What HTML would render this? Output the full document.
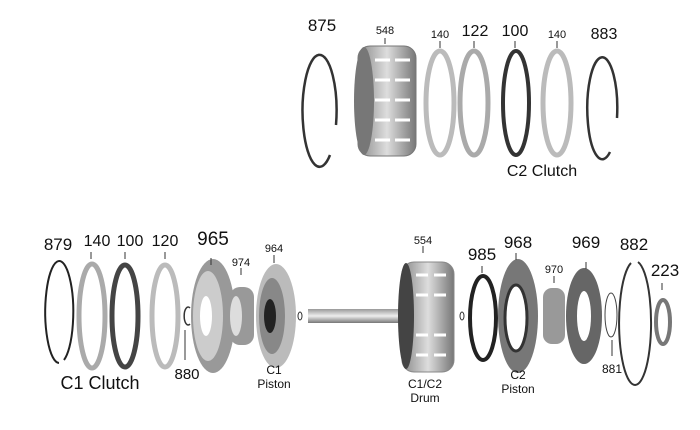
<!DOCTYPE html>
<html><head><meta charset="utf-8"><style>
html,body{margin:0;padding:0;background:#fff;}
svg{display:block}
text{font-family:"Liberation Sans","DejaVu Sans",sans-serif;fill:#111;text-anchor:middle}
</style></head><body>
<svg width="700" height="430" viewBox="0 0 700 430">
<defs>
<linearGradient id="g1" x1="0" x2="1"><stop offset="0" stop-color="#888"/><stop offset=".5" stop-color="#ddd"/><stop offset="1" stop-color="#777"/></linearGradient>
<linearGradient id="sh" x1="0" y1="0" x2="0" y2="1"><stop offset="0" stop-color="#999"/><stop offset=".5" stop-color="#eee"/><stop offset="1" stop-color="#777"/></linearGradient>
</defs>
<!-- TOP ROW -->
<path d="M330 155 A17 56 0 1 1 336 125" fill="none" stroke="#333" stroke-width="2.5"/>
<rect x="358" y="46" width="58" height="110" rx="12" fill="url(#g1)" stroke="#777"/>
<ellipse cx="364" cy="101" rx="10" ry="54" fill="#777"/>
<g stroke="#fff" stroke-width="3">
<line x1="375" y1="60" x2="390" y2="60"/><line x1="395" y1="60" x2="410" y2="60"/>
<line x1="375" y1="80" x2="390" y2="80"/><line x1="395" y1="80" x2="410" y2="80"/>
<line x1="375" y1="100" x2="390" y2="100"/><line x1="395" y1="100" x2="410" y2="100"/>
<line x1="375" y1="120" x2="390" y2="120"/><line x1="395" y1="120" x2="410" y2="120"/>
<line x1="375" y1="140" x2="390" y2="140"/><line x1="395" y1="140" x2="410" y2="140"/>
</g>
<ellipse cx="440" cy="103" rx="14" ry="52" fill="none" stroke="#bbb" stroke-width="5"/>
<ellipse cx="474" cy="103" rx="14" ry="52" fill="none" stroke="#aaa" stroke-width="5"/>
<ellipse cx="516" cy="103" rx="13" ry="52" fill="none" stroke="#333" stroke-width="4"/>
<ellipse cx="557" cy="103" rx="14" ry="52" fill="none" stroke="#bbb" stroke-width="5"/>
<path d="M610 152 A15 51 0 1 1 617 118" fill="none" stroke="#333" stroke-width="2.5"/>
<g stroke="#333" stroke-width="1"><line x1="385" y1="38" x2="385" y2="44"/><line x1="440" y1="41" x2="440" y2="48"/><line x1="474" y1="41" x2="474" y2="48"/><line x1="515" y1="41" x2="515" y2="48"/><line x1="557" y1="41" x2="557" y2="48"/></g>
<text x="322" y="31" font-size="17">875</text>
<text x="385" y="34" font-size="11">548</text>
<text x="440" y="38" font-size="11">140</text>
<text x="475" y="36" font-size="16">122</text>
<text x="515" y="36" font-size="16">100</text>
<text x="557" y="38" font-size="11">140</text>
<text x="604" y="39" font-size="16">883</text>
<text x="542" y="176" font-size="16">C2 Clutch</text>

<!-- BOTTOM ROW -->
<path d="M59 363 A14 51 0 1 1 64 360" fill="none" stroke="#222" stroke-width="2"/>
<ellipse cx="92" cy="316" rx="13" ry="52" fill="none" stroke="#aaa" stroke-width="5"/>
<ellipse cx="125" cy="316" rx="13" ry="51" fill="none" stroke="#444" stroke-width="5"/>
<ellipse cx="165" cy="316" rx="13" ry="51" fill="none" stroke="#bbb" stroke-width="5"/>
<path d="M190 308 A4 9 0 1 0 190 324" fill="none" stroke="#333" stroke-width="1.5"/>
<ellipse cx="213" cy="316" rx="22" ry="57" fill="#999"/>
<ellipse cx="208" cy="316" rx="15" ry="45" fill="#ccc"/>
<ellipse cx="206" cy="316" rx="6" ry="20" fill="#fff"/>
<rect x="230" y="287" width="24" height="58" rx="10" fill="#999"/>
<ellipse cx="236" cy="316" rx="6" ry="20" fill="#ddd"/>
<ellipse cx="276" cy="316" rx="20" ry="52" fill="#bbb"/>
<ellipse cx="272" cy="316" rx="13" ry="38" fill="#888"/>
<ellipse cx="270" cy="316" rx="6" ry="17" fill="#222"/>
<ellipse cx="300" cy="316" rx="2" ry="4" fill="none" stroke="#333"/>
<rect x="308" y="309" width="100" height="14" fill="url(#sh)"/>
<rect x="402" y="262" width="52" height="110" rx="12" fill="url(#g1)" stroke="#888"/>
<ellipse cx="406" cy="316" rx="8" ry="53" fill="#444"/>
<g stroke="#fff" stroke-width="3">
<line x1="416" y1="275" x2="428" y2="275"/><line x1="434" y1="275" x2="446" y2="275"/>
<line x1="416" y1="295" x2="428" y2="295"/><line x1="434" y1="295" x2="446" y2="295"/>
<line x1="416" y1="335" x2="428" y2="335"/><line x1="434" y1="335" x2="446" y2="335"/>
<line x1="416" y1="355" x2="428" y2="355"/><line x1="434" y1="355" x2="446" y2="355"/>
</g>
<ellipse cx="462" cy="316" rx="2" ry="4" fill="none" stroke="#333"/>
<ellipse cx="483" cy="318" rx="13" ry="42" fill="none" stroke="#222" stroke-width="4"/>
<ellipse cx="518" cy="316" rx="20" ry="57" fill="#777"/>
<ellipse cx="516" cy="318" rx="11" ry="33" fill="#fff" stroke="#333" stroke-width="3"/>
<rect x="543" y="288" width="22" height="56" rx="9" fill="#999"/>
<ellipse cx="584" cy="316" rx="18" ry="48" fill="#666"/>
<ellipse cx="584" cy="316" rx="7" ry="25" fill="#fff"/>
<ellipse cx="611" cy="315" rx="6" ry="22" fill="none" stroke="#444" stroke-width="1"/>
<path d="M631 263 A16 62 0 1 0 638 262" fill="none" stroke="#333" stroke-width="2"/>
<ellipse cx="663" cy="322" rx="7" ry="22" fill="none" stroke="#777" stroke-width="4"/>
<g stroke="#333" stroke-width="1">
<line x1="91" y1="252" x2="91" y2="259"/><line x1="125" y1="252" x2="125" y2="259"/><line x1="165" y1="252" x2="165" y2="259"/>
<line x1="211" y1="258" x2="211" y2="265"/><line x1="241" y1="268" x2="241" y2="275"/><line x1="274" y1="255" x2="274" y2="263"/>
<line x1="423" y1="246" x2="423" y2="253"/><line x1="482" y1="266" x2="482" y2="273"/><line x1="516" y1="253" x2="516" y2="260"/>
<line x1="554" y1="276" x2="554" y2="283"/><line x1="586" y1="262" x2="586" y2="269"/><line x1="662" y1="283" x2="662" y2="290"/>
<line x1="185" y1="330" x2="185" y2="360"/><line x1="612" y1="340" x2="612" y2="356"/>
</g>
<text x="58" y="250" font-size="17">879</text>
<text x="97" y="246" font-size="16">140</text>
<text x="130" y="246" font-size="16">100</text>
<text x="165" y="246" font-size="16">120</text>
<text x="213" y="245" font-size="19">965</text>
<text x="241" y="266" font-size="11">974</text>
<text x="274" y="252" font-size="11">964</text>
<text x="187" y="379" font-size="15">880</text>
<text x="100" y="389" font-size="18">C1 Clutch</text>
<text x="274" y="374" font-size="12">C1</text>
<text x="274" y="388" font-size="12">Piston</text>
<text x="423" y="244" font-size="11">554</text>
<text x="425" y="388" font-size="12">C1/C2</text>
<text x="425" y="402" font-size="12">Drum</text>
<text x="482" y="260" font-size="17">985</text>
<text x="518" y="248" font-size="17">968</text>
<text x="554" y="273" font-size="11">970</text>
<text x="586" y="248" font-size="17">969</text>
<text x="612" y="373" font-size="12">881</text>
<text x="634" y="250" font-size="17">882</text>
<text x="665" y="276" font-size="17">223</text>
<text x="518" y="379" font-size="12">C2</text>
<text x="518" y="393" font-size="12">Piston</text>
</svg>
</body></html>
